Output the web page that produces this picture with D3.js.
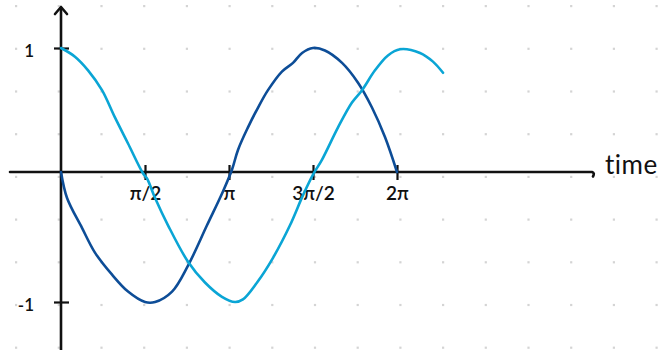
<!DOCTYPE html>
<html>
<head>
<meta charset="utf-8">
<script src="https://cdn.jsdelivr.net/npm/d3@7"></script>
<style>
  html, body { margin: 0; padding: 0; background: #fff; }
  svg { display: block; }
</style>
</head>
<body>
<svg id="chart" width="668" height="354"></svg>
<script>
// time in units of π, amplitude in [-1, 1]
const cosT = [0, 0.083, 0.161, 0.244, 0.321, 0.399, 0.488, 0.512, 0.56, 0.637, 0.756, 0.857, 0.958, 1.036, 1.083, 1.167, 1.262, 1.363, 1.44, 1.5, 1.554, 1.649, 1.732, 1.792, 1.869, 1.946, 2.018, 2.137, 2.214, 2.274];
const cosV = [1.0, 0.93, 0.82, 0.66, 0.44, 0.23, -0.01, -0.05, -0.2, -0.41, -0.69, -0.85, -0.96, -1.0, -0.98, -0.85, -0.66, -0.41, -0.18, -0.02, 0.10, 0.36, 0.56, 0.66, 0.82, 0.94, 0.99, 0.96, 0.89, 0.80];

const negSinT = [0, 0.036, 0.125, 0.202, 0.304, 0.399, 0.5, 0.56, 0.661, 0.756, 0.869, 0.964, 1.018, 1.054, 1.113, 1.173, 1.232, 1.315, 1.381, 1.435, 1.5, 1.571, 1.673, 1.768, 1.851, 1.929, 2.0];
const negSinV = [0, -0.2, -0.43, -0.62, -0.79, -0.92, -1.0, -1.0, -0.92, -0.72, -0.41, -0.15, 0.02, 0.18, 0.36, 0.52, 0.66, 0.81, 0.88, 0.96, 1.0, 0.98, 0.88, 0.72, 0.52, 0.28, 0];

const xTickValues = [0.5, 1, 1.5, 2];
const xTickLabels = ["π/2", "π", "3π/2", "2π"];
const yTickValues = [1, -1];
const yTickLabels = ["1", "-1"];
const axisTitle = "time";

const svg = d3.select("#chart");
const W = 668, H = 354;

const x = d3.scaleLinear().domain([0, 2]).range([61, 397]);
const y = d3.scaleLinear().domain([-1, 0, 1]).range([302, 172, 48]);

// dotted paper background
const gap = 42.7;
const dots = [];
for (let gx = 16; gx < W; gx += gap) {
  for (let gy = 6; gy < H; gy += gap) dots.push([gx, gy]);
}
svg.append("g").selectAll("rect").data(dots).join("rect")
  .attr("x", d => d[0] - 1).attr("y", d => d[1] - 1)
  .attr("width", 2.2).attr("height", 2.2)
  .attr("fill", "#d4d4d4");

const ink = "#111";
const font = "Lato, 'DejaVu Sans', sans-serif";

// horizontal axis line with a small hooked arrow
svg.append("path")
  .attr("d", `M10,${y(0)} L592,${y(0)} q3,1 1,4.5`)
  .attr("fill", "none").attr("stroke", ink).attr("stroke-width", 2.6)
  .attr("stroke-linecap", "round");

// vertical axis with arrow head
svg.append("path")
  .attr("d", `M${x(0)},350 L${x(0)},7`)
  .attr("fill", "none").attr("stroke", ink).attr("stroke-width", 2.6);
svg.append("path")
  .attr("d", `M${x(0) - 6},14 L${x(0)},7 L${x(0) + 6},14`)
  .attr("fill", "none").attr("stroke", ink).attr("stroke-width", 2.6)
  .attr("stroke-linecap", "round").attr("stroke-linejoin", "round");

// x ticks crossing the axis
const xAxis = d3.axisBottom(x)
  .tickValues(xTickValues)
  .tickSize(15)
  .tickPadding(7)
  .tickFormat((d, i) => xTickLabels[i]);
const gx = svg.append("g").attr("transform", `translate(0,${y(0) - 7})`).call(xAxis);
gx.select(".domain").remove();
gx.selectAll(".tick line").attr("stroke", ink).attr("stroke-width", 2.2);
gx.selectAll(".tick text")
  .attr("fill", ink)
  .style("font-family", font)
  .style("font-size", "19px")
  .style("font-weight", "600");

// y ticks crossing the axis
const yAxis = d3.axisLeft(y)
  .tickValues(yTickValues)
  .tickSize(15)
  .tickPadding(20)
  .tickFormat((d, i) => yTickLabels[i]);
const gy = svg.append("g").attr("transform", `translate(${x(0) + 8},0)`).call(yAxis);
gy.select(".domain").remove();
gy.selectAll(".tick line").attr("stroke", ink).attr("stroke-width", 2.2);
gy.selectAll(".tick text")
  .attr("fill", ink)
  .attr("dy", "0.5em")
  .style("font-family", font)
  .style("font-size", "17px")
  .style("font-weight", "600");

// axis title
svg.append("text")
  .attr("x", 605).attr("y", 174)
  .attr("fill", ink)
  .style("font-family", font)
  .style("font-size", "26px")
  .style("letter-spacing", "0.5px")
  .text(axisTitle);

// curves
const line = d3.line()
  .x(d => x(d[0]))
  .y(d => y(d[1]))
  .curve(d3.curveCatmullRom.alpha(0.5));

const cosData = cosT.map((t, i) => [t, cosV[i]]);
const negSinData = negSinT.map((t, i) => [t, negSinV[i]]);

svg.append("path").datum(negSinData)
  .attr("d", line)
  .attr("fill", "none").attr("stroke", "#0d4d97").attr("stroke-width", 2.6)
  .attr("stroke-linecap", "round");

svg.append("path").datum(cosData)
  .attr("d", line)
  .attr("fill", "none").attr("stroke", "#0aa5d5").attr("stroke-width", 2.6)
  .attr("stroke-linecap", "round");
</script>
</body>
</html>
